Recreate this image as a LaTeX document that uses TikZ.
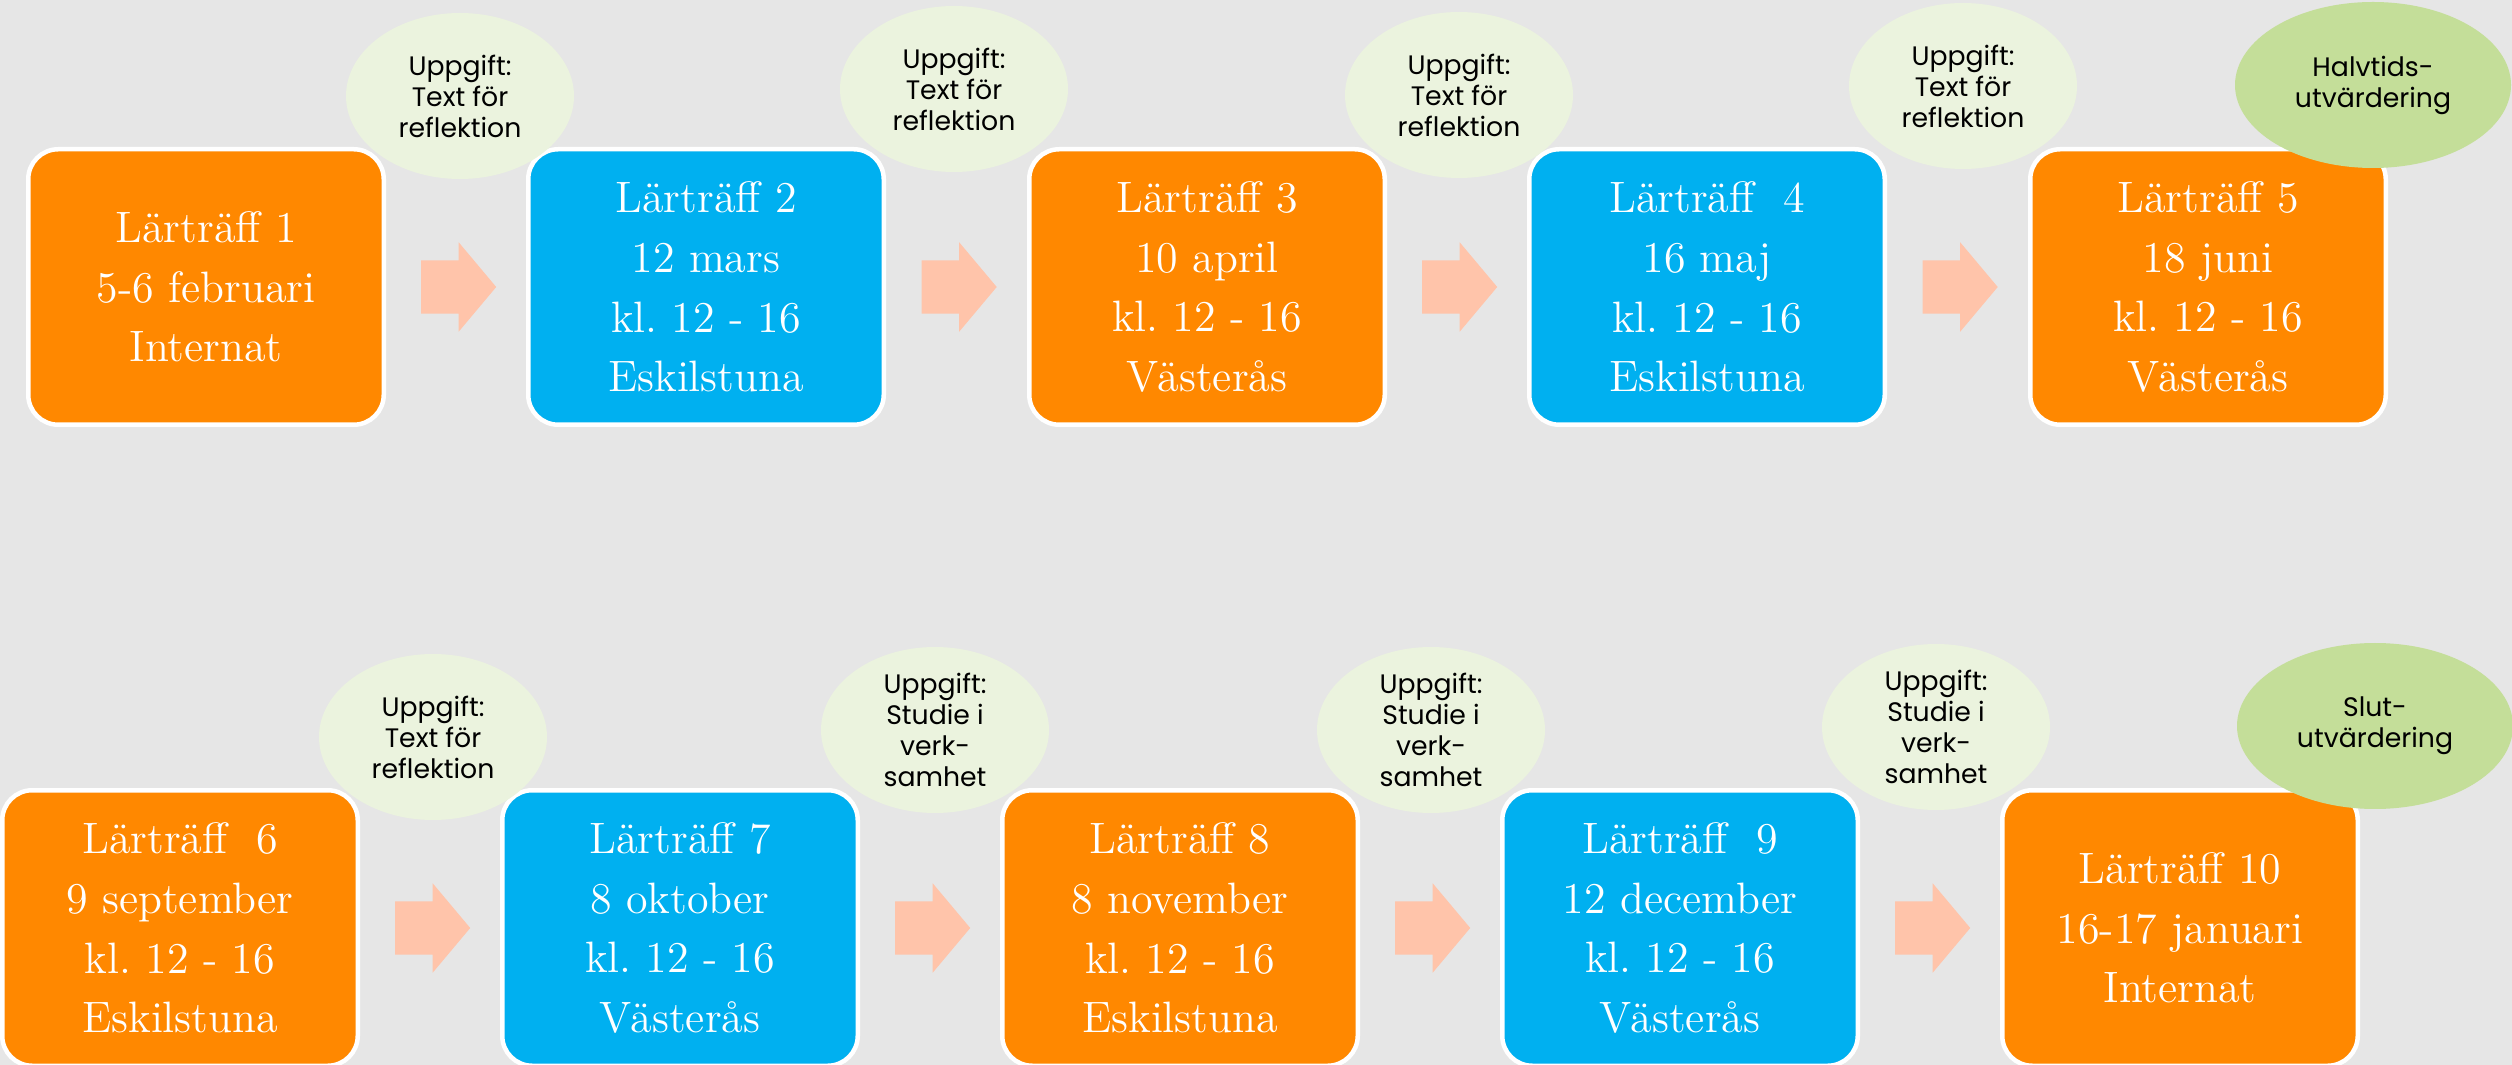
\documentclass[tikz,border=0pt]{standalone}
\usepackage{fontspec}
\newfontfamily\gothic{Poppins}
\usetikzlibrary{shapes.geometric,shapes.arrows,calc}
\definecolor{bakgrund}{RGB}{230,230,230}
\definecolor{traffOrange}{RGB}{255,136,0}
\definecolor{traffBla}{RGB}{0,176,240}
\definecolor{pilRosa}{RGB}{255,196,170}
\definecolor{uppgGron}{RGB}{235,243,222}
\definecolor{utvGron}{RGB}{196,222,153}
\frenchspacing
\begin{document}
\begin{tikzpicture}[x=0.1mm,y=-0.1mm,
	traff/.style={rounded corners=3mm,draw=white,line width=1.28pt,minimum width=35.55mm,minimum height=27.55mm,inner sep=0pt,align=center,text=white,font=\fontsize{12.5}{17}\selectfont},
	orangebox/.style={traff,fill=traffOrange},
	blabox/.style={traff,fill=traffBla},
	pil/.style={single arrow,fill=pilRosa,inner sep=0pt,text height=5.2mm,text depth=0pt,minimum height=7.5mm,single arrow head extend=1.8mm,single arrow tip angle=100,xshift=-0.85mm},
	uppg/.style={ellipse,fill=uppgGron,inner sep=0pt,minimum width=22.8mm,minimum height=16.6mm,align=center,font=\gothic\fontsize{7.6}{8.8}\selectfont},
	utv/.style={uppg,fill=utvGron,minimum width=27.6mm}]
		\fill[bakgrund] (0,0) rectangle (2512,1065);
		\useasboundingbox (0,0) rectangle (2512,1065);
		
		\node[orangebox] (b1) at (206,287) {Lärträff 1\\5-6 februari\\Internat};
		\node[blabox] (b2) at (706,287) {Lärträff 2\\12 mars\\kl. 12 - 16\\Eskilstuna};
		\node[orangebox] (b3) at (1207,287) {Lärträff 3\\10 april\\kl. 12 - 16\\Västerås};
		\node[blabox] (b4) at (1707,287) {Lärträff~~4\\16 maj\\kl. 12 - 16\\Eskilstuna};
		\node[orangebox] (b5) at (2208,287) {Lärträff 5\\18 juni\\kl. 12 - 16\\Västerås};
		
		\node[orangebox] (b6) at (180,928) {Lärträff~~6\\9 september\\kl. 12 - 16\\Eskilstuna};
		\node[blabox] (b7) at (680,928) {Lärträff 7\\8 oktober\\kl. 12 - 16\\Västerås};
		\node[orangebox] (b8) at (1180,928) {Lärträff 8\\8 november\\kl. 12 - 16\\Eskilstuna};
		\node[blabox] (b9) at (1680,928) {Lärträff~~9\\12 december\\kl. 12 - 16\\Västerås};
		\node[orangebox] (b10) at (2180,928) {Lärträff 10\\16-17 januari\\Internat};
		
		\node[pil] (p1) at ($(b1.east)!0.5!(b2.west)$) {};
		\node[pil] (p2) at ($(b2.east)!0.5!(b3.west)$) {};
		\node[pil] (p3) at ($(b3.east)!0.5!(b4.west)$) {};
		\node[pil] (p4) at ($(b4.east)!0.5!(b5.west)$) {};
		\node[pil] (p6) at ($(b6.east)!0.5!(b7.west)$) {};
		\node[pil] (p7) at ($(b7.east)!0.5!(b8.west)$) {};
		\node[pil] (p8) at ($(b8.east)!0.5!(b9.west)$) {};
		\node[pil] (p9) at ($(b9.east)!0.5!(b10.west)$) {};
		
		\node[uppg] (u1) at (460,96) {Uppgift:\\Text för\\reflektion};
		\node[uppg] (u2) at (954,89) {Uppgift:\\Text för\\reflektion};
		\node[uppg] (u3) at (1459,95) {Uppgift:\\Text för\\reflektion};
		\node[uppg] (u4) at (1963,86) {Uppgift:\\Text för\\reflektion};
		\node[utv] (halvtid) at (2373,85) {Halvtids-\\utvärdering};
		
		\node[uppg] (u6) at (433,737) {Uppgift:\\Text för\\reflektion};
		\node[uppg] (u7) at (935,730) {Uppgift:\\Studie i\\verk-\\samhet};
		\node[uppg] (u8) at (1431,730) {Uppgift:\\Studie i\\verk-\\samhet};
		\node[uppg] (u9) at (1936,727) {Uppgift:\\Studie i\\verk-\\samhet};
		\node[utv] (slut) at (2375,726) {Slut-\\utvärdering};
\end{tikzpicture}
\end{document}
